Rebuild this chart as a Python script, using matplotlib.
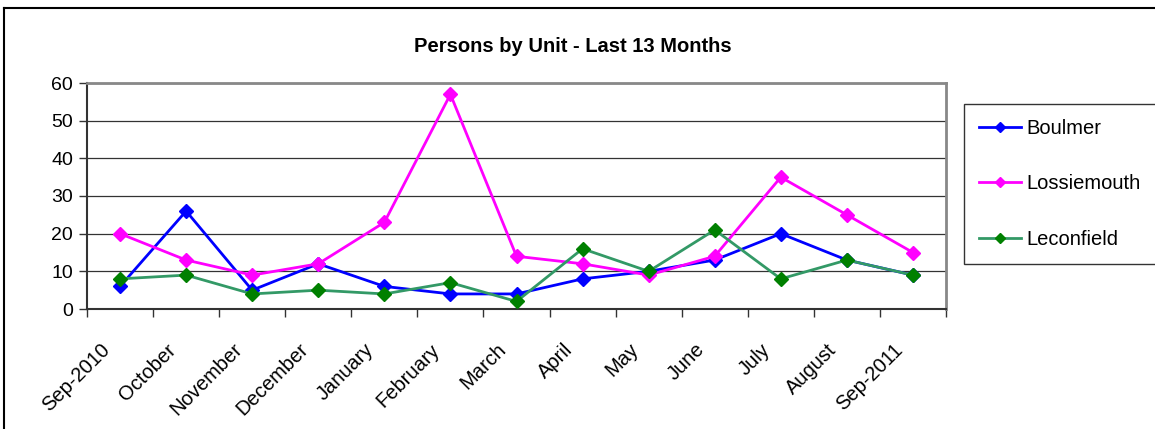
import matplotlib.pyplot as plt
from matplotlib.lines import Line2D
from matplotlib.transforms import blended_transform_factory, ScaledTranslation
import numpy as np

plt.rcParams['font.family'] = ['Liberation Sans', 'DejaVu Sans']

# Monate
months = ["Sep-2010", "October", "November", "December", "January", "February",
          "March", "April", "May", "June", "July", "August", "Sep-2011"]

# Personen je Einheit
boulmer = [6, 26, 5, 12, 6, 4, 4, 8, 10, 13, 20, 13, 9]
lossiemouth = [20, 13, 9, 12, 23, 57, 14, 12, 9, 14, 35, 25, 15]
leconfield = [8, 9, 4, 5, 4, 7, 2, 16, 10, 21, 8, 13, 9]

fig = plt.figure(figsize=(11.55, 4.29), dpi=100)
ax = fig.add_axes([87/1155, 1 - 309/429, (946 - 87)/1155, (309 - 83)/429])

x = np.arange(len(months))
ax.plot(x, boulmer, "-", color="#0000FF", linewidth=2, marker="D", markersize=7,
        markerfacecolor="#0000FF", markeredgecolor="#0000FF", label="Boulmer", zorder=3)
ax.plot(x, lossiemouth, "-", color="#FF00FF", linewidth=2, marker="D", markersize=7,
        markerfacecolor="#FF00FF", markeredgecolor="#FF00FF", label="Lossiemouth", zorder=3)
ax.plot(x, leconfield, "-", color="#339966", linewidth=2, marker="D", markersize=7,
        markerfacecolor="#008000", markeredgecolor="#008000", label="Leconfield", zorder=3)

ax.set_xlim(-0.5, len(months) - 0.5)
ax.set_ylim(0, 60)
ax.set_yticks(range(0, 61, 10))
ax.yaxis.grid(True, color="#333333", linewidth=0.9)
ax.set_axisbelow(True)

# Ticks zwischen den Kategorien
ax.set_xticks(np.arange(-0.5, len(months), 1))
ax.set_xticklabels([])
ax.tick_params(axis="x", length=6, width=1, color="#333333", direction="out")
ax.tick_params(axis="y", length=6, width=1, color="#333333", labelsize=14, pad=4)

# Monatsnamen schräg unter der Achse
trans = blended_transform_factory(ax.transData, ax.transAxes) + \
    ScaledTranslation(-20/100, -31/100, fig.dpi_scale_trans)
for i, m in enumerate(months):
    ax.text(i, 0, m, transform=trans, rotation=45, ha="right", va="top",
            rotation_mode="anchor", fontsize=14.5)

for s in ["left", "bottom"]:
    ax.spines[s].set_color("#333333")
    ax.spines[s].set_linewidth(1.5)
for s in ["top", "right"]:
    ax.spines[s].set_color("#888888")
    ax.spines[s].set_linewidth(2)

fig.text(573/1155, 1 - 47/429, "Persons by Unit - Last 13 Months", ha="center", va="center",
         fontsize=14.5, fontweight="bold")

leg = fig.legend(loc="upper left", bbox_to_anchor=(964/1155, 1 - 104/429), fontsize=14.5,
                 frameon=True, fancybox=False, edgecolor="black", borderpad=0.75,
                 borderaxespad=0, labelspacing=1.8, handlelength=2.1, handletextpad=0.25,
                 markerscale=0.8)
leg.get_frame().set_linewidth(1)

# Rahmen um das Diagramm
fig.add_artist(Line2D([4/1155, 4/1155], [0, 1 - 8/429], color="black", linewidth=1.5))
fig.add_artist(Line2D([4/1155, 1], [1 - 8/429, 1 - 8/429], color="black", linewidth=1.5))

fig.savefig("out.png", dpi=100)
